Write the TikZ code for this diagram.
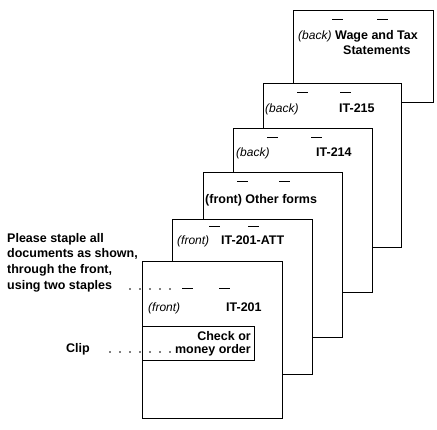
\documentclass[tikz,border=0pt]{standalone}
\usepackage{fontspec}
\setmainfont{Liberation Sans}
\usetikzlibrary{calc}
\usetikzlibrary{positioning}
\newcommand{\lblfont}{\fontsize{12.5}{15.6}\selectfont\bfseries}
\newcommand{\tagfont}{\fontsize{12}{15.6}\selectfont\itshape}
\tikzset{
  sheet/.style={draw, fill=white, line width=.9pt, anchor=north west, inner sep=0pt},
  staple/.style={line width=.9pt},
  leader/.style={line width=1.7pt, line cap=round, dash pattern=on 0pt off 10pt},
  lbl/.style={inner sep=0pt, font=\lblfont},
  tag/.style={inner sep=0pt, font=\tagfont}}

\begin{document}
\begin{tikzpicture}[x=1pt, y=-1pt]
          \useasboundingbox (0,0) rectangle (437,429);

          % the sheets, from the back to the front
          \node[sheet, minimum width=140pt, minimum height=92pt] (s1) at (293,10) {};
          \node[sheet, minimum width=138pt, minimum height=164pt] (s2) at (263,83) {};
          \node[sheet, minimum width=139pt, minimum height=164pt] (s3) at (233,128) {};
          \node[sheet, minimum width=139pt, minimum height=165pt] (s4) at (203,172) {};
          \node[sheet, minimum width=140pt, minimum height=155pt] (s5) at (172,219) {};
          \node[sheet, minimum width=140pt, minimum height=157pt] (s6) at (142,261) {};
          \node[sheet, minimum width=112pt, minimum height=34pt] (cheque) at (142,326) {};

          \foreach \s/\dy/\da/\db in {s1/9/39/84, s2/9/34/77, s3/9/34/78, s4/9/34/76, s5/7/37/76, s6/27/40/77}{
            \draw[staple] ($(\s.north west)+(\da,\dy)$) --++ (11,0);
            \draw[staple] ($(\s.north west)+(\db,\dy)$) --++ (11,0);
          }

          \node[tag, anchor=base west] (b1) at (298,39) {(back)};
          \node[lbl, anchor=base west] (w1) at (335,39) {Wage and Tax};
          \node[lbl, anchor=base west] (w2) at (343,54) {Statements};

          \node[tag, anchor=base west] (b2) at (265,112) {(back)};
          \node[lbl, anchor=base west] (f2) at (339,112) {IT-215};

          \node[tag, anchor=base west] (b3) at (236,156) {(back)};
          \node[lbl, anchor=base west] (f3) at (316,156) {IT-214};

          \node[lbl, anchor=base west] (f4) at (205,203) {(front) Other forms};

          \node[tag, anchor=base west] (b5) at (177,244) {(front)};
          \node[lbl, anchor=base west] (f5) at (221,244) {IT-201-ATT};

          \node[tag, anchor=base west] (b6) at (148,311) {(front)};
          \node[lbl, anchor=base west] (f6) at (226,311) {IT-201};

          \node[lbl, anchor=base east] (c1) at (251,340) {Check or};
          \node[lbl, anchor=base east] (c2) at (251,353) {money order};

          % notes on the left
          \node[lbl, anchor=base west, align=left] (note) at (7,289)
            {Please staple all\\documents as shown,\\through the front,\\using two staples};
          \node[lbl, anchor=base west] (clip) at (66,352) {Clip};

          \coordinate (st1) at (130,289);
          \coordinate (st2) at (171,289);
          \coordinate (cl1) at (110,352);
          \coordinate (cl2) at (171,352);
          \draw[leader] (st1) -- (st2);
          \draw[leader] (cl1) -- (cl2);

        \end{tikzpicture}
\end{document}
